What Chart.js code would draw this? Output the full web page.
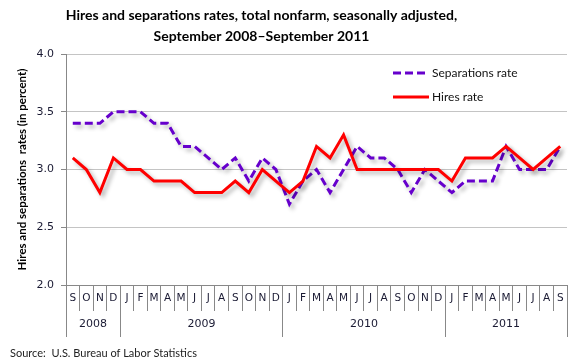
<!DOCTYPE html>
<html><head><meta charset="utf-8">
<script src="https://cdn.jsdelivr.net/npm/chart.js@4/dist/chart.umd.min.js"></script>
<style>html,body{margin:0;padding:0;background:#fff}#wrap{width:580px;height:363px;position:relative}</style>
</head><body><div id="wrap"><canvas id="c" width="580" height="363"></canvas></div>
<script>
const months = ['S','O','N','D','J','F','M','A','M','J','J','A','S','O','N','D','J','F','M','A','M','J','J','A','S','O','N','D','J','F','M','A','M','J','J','A','S'];
const years = ['2008','2009','2010','2011'];
const yearSpans = [4, 12, 12, 9];
const separations = [3.4,3.4,3.4,3.5,3.5,3.5,3.4,3.4,3.2,3.2,3.1,3.0,3.1,2.9,3.1,3.0,2.7,2.9,3.0,2.8,3.0,3.2,3.1,3.1,3.0,2.8,3.0,2.9,2.8,2.9,2.9,2.9,3.2,3.0,3.0,3.0,3.2];
const hires = [3.1,3.0,2.8,3.1,3.0,3.0,2.9,2.9,2.9,2.8,2.8,2.8,2.9,2.8,3.0,2.9,2.8,2.9,3.2,3.1,3.3,3.0,3.0,3.0,3.0,3.0,3.0,3.0,2.9,3.1,3.1,3.1,3.2,3.1,3.0,3.1,3.2];
const yTicks = [2.0, 2.5, 3.0, 3.5, 4.0];

// year band ticks: boundaries and midpoints (in category index units)
const yearBounds = [-0.5];
const yearMids = [];
yearSpans.forEach((n, i) => {
  const start = yearBounds[i];
  yearMids.push(start + n / 2);
  yearBounds.push(start + n);
});
const near = (a, b) => Math.abs(a - b) < 1e-6;

const AXIS = '#888888';
const LABEL = '#1a1a33';

const shadowPlugin = {
  id: 'shadow',
  beforeDatasetDraw(chart) {
    const ctx = chart.ctx;
    ctx.save();
    ctx.shadowColor = 'rgba(0,0,0,0.3)';
    ctx.shadowBlur = 4;
    ctx.shadowOffsetX = 3;
    ctx.shadowOffsetY = 3;
  },
  afterDatasetDraw(chart) { chart.ctx.restore(); }
};

// centre the title block over the same point as the reference
const titleShift = {
  id: 'titleShift',
  afterLayout(chart) {
    const t = chart.titleBlock;
    if (t) { t.left = 0; t.right = 523; t.width = 523; }
  }
};

const legendPlugin = {
  id: 'innerLegend',
  afterDatasetsDraw(chart) {
    const ctx = chart.ctx, a = chart.chartArea;
    const x0 = a.right - 174, y0 = a.top + 19, gap = 24;
    ctx.save();
    chart.data.datasets.forEach((ds, i) => {
      const y = y0 + i * gap;
      ctx.beginPath();
      ctx.strokeStyle = ds.borderColor;
      ctx.lineWidth = ds.borderWidth;
      ctx.setLineDash(ds.borderDash || []);
      ctx.moveTo(x0, y);
      ctx.lineTo(x0 + (ds.borderDash ? 33 : 36), y);
      ctx.stroke();
      ctx.setLineDash([]);
      ctx.fillStyle = '#111';
      ctx.font = '12px Lato';
      ctx.textBaseline = 'middle';
      ctx.textAlign = 'left';
      ctx.fillText(ds.label, x0 + 39, y);
    });
    ctx.restore();
  }
};

new Chart(document.getElementById('c'), {
  type: 'line',
  data: {
    labels: months,
    datasets: [
      { label: 'Separations rate', data: separations, borderColor: '#6600cc', borderWidth: 3,
        borderDash: [8, 4], pointRadius: 0, fill: false, tension: 0, order: 2 },
      { label: 'Hires rate', data: hires, borderColor: '#ff0000', borderWidth: 3,
        pointRadius: 0, fill: false, tension: 0, order: 1 }
    ]
  },
  options: {
    responsive: false,
    devicePixelRatio: 1,
    animation: false,
    layout: { padding: { left: 10, right: 13, top: 0, bottom: 0 } },
    plugins: {
      legend: { display: false },
      tooltip: { enabled: false },
      title: {
        display: true,
        text: ['Hires and separations rates, total nonfarm, seasonally adjusted,', 'September 2008\u2013September 2011'],
        font: { family: 'Lato', size: 14, weight: 'bold', lineHeight: 1.5 },
        color: '#000',
        padding: { top: 5, bottom: 7 }
      },
      subtitle: {
        display: true,
        position: 'bottom',
        align: 'start',
        text: 'Source:  U.S. Bureau of Labor Statistics',
        font: { family: 'Lato', size: 11, lineHeight: 1.2727 },
        color: '#222',
        padding: { top: 9, bottom: 3 }
      }
    },
    scales: {
      y: {
        min: 2, max: 4,
        afterBuildTicks: s => { s.ticks = yTicks.map(v => ({ value: v })); },
        afterFit: s => { s.width = 56; },
        ticks: { callback: v => Number(v).toFixed(1), font: { family: 'DejaVu Sans', size: 11 }, color: LABEL, padding: 7 },
        grid: { color: '#c4c4c4', borderDash: [2, 2], tickColor: AXIS, tickLength: 5, tickBorderDash: [] },
        border: { display: true, color: AXIS, width: 1 },
        title: {
          display: true, text: 'Hires and separations  rates (in percent)',
          font: { family: 'Lato', size: 11.5, weight: 'bold' }, color: '#000', padding: { top: 5, bottom: 0 }
        }
      },
      x: {
        type: 'category',
        position: 'bottom',
        weight: 0,
        offset: true,
        afterFit: s => { s.height = 26; },
        grid: { offset: true, drawOnChartArea: false, tickLength: 26, tickColor: AXIS },
        border: { display: true, color: AXIS },
        ticks: { autoSkip: false, maxRotation: 0, font: { family: 'DejaVu Sans', size: 10.5 }, color: LABEL, padding: -19 }
      },
      x2: {
        type: 'linear',
        position: 'bottom',
        weight: 1,
        min: yearBounds[0], max: yearBounds[yearBounds.length - 1],
        afterBuildTicks: s => {
          s.ticks = yearBounds.concat(yearMids).sort((a, b) => a - b).map(v => ({ value: v }));
        },
        afterFit: s => { s.height = 26; },
        grid: {
          drawOnChartArea: false, tickLength: 26,
          tickColor: c => (c.tick && yearBounds.some(b => near(b, c.tick.value))) ? AXIS : 'rgba(0,0,0,0)'
        },
        border: { display: false },
        ticks: {
          autoSkip: false, maxRotation: 0,
          callback: v => { const i = yearMids.findIndex(m => near(m, v)); return i >= 0 ? years[i] : ''; },
          font: { family: 'DejaVu Sans', size: 11 }, color: LABEL, padding: -19
        }
      }
    }
  },
  plugins: [shadowPlugin, titleShift, legendPlugin]
});
</script>
</body></html>
